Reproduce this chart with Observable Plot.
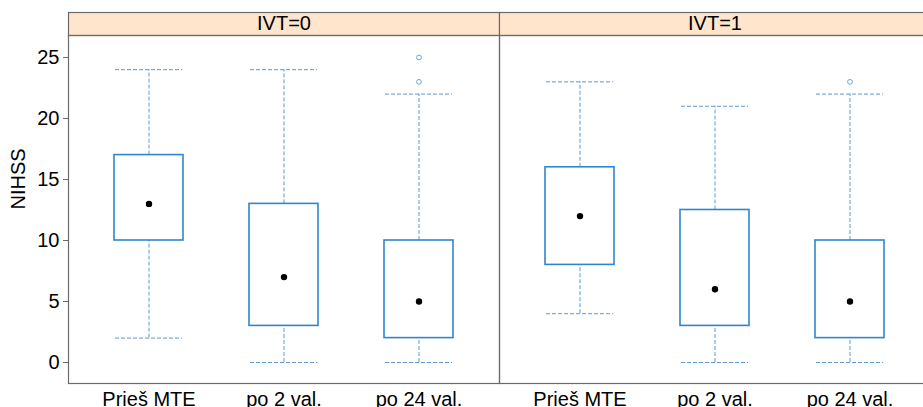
<!DOCTYPE html>
<html>
<head>
<meta charset="utf-8">
<script src="https://cdn.jsdelivr.net/npm/d3@7"></script>
<script src="https://cdn.jsdelivr.net/npm/@observablehq/plot@0.6"></script>
<style>
  html, body { margin: 0; padding: 0; background: #fff; overflow: hidden; }
  #chart svg { display: block; }
</style>
</head>
<body>
<div id="chart"></div>
<script>
// NIHSS by time point, split by IVT (0 / 1): five-number summaries per box
const ivtLevels = [0, 1];
const timePoints = ["Prieš MTE", "po 2 val.", "po 24 val."];

const boxIvt   = [0, 0, 0, 1, 1, 1];
const boxTime  = ["Prieš MTE", "po 2 val.", "po 24 val.", "Prieš MTE", "po 2 val.", "po 24 val."];
const whiskLo  = [2, 0, 0, 4, 0, 0];
const quart1   = [10, 3, 2, 8, 3, 2];
const medians  = [13, 7, 5, 12, 6, 5];
const quart3   = [17, 13, 10, 16, 12.5, 10];
const whiskHi  = [24, 24, 22, 23, 21, 22];

// points beyond the whiskers
const outIvt   = [0, 0, 1];
const outTime  = ["po 24 val.", "po 24 val.", "po 24 val."];
const outValue = [23, 25, 23];

const yTicks = [0, 5, 10, 15, 20, 25];

const boxes = boxIvt.map((ivt, i) => ({
  ivt, time: boxTime[i], lo: whiskLo[i], q1: quart1[i], med: medians[i], q3: quart3[i], hi: whiskHi[i]
}));
const outliers = outIvt.map((ivt, i) => ({ivt, time: outTime[i], value: outValue[i]}));

const boxBlue = "#2f86d0";
const whiskerBlue = "#5d9ad0";
const frameGrey = "#6b6b6b";
const dash = "4,2";

const chart = Plot.plot({
  width: 923,
  height: 407,
  marginTop: 35,
  marginBottom: 24,
  marginLeft: 68,
  marginRight: 0,
  style: {fontFamily: "'Liberation Sans', Arial, sans-serif", fontSize: "20px", color: "#000", background: "#fff"},
  fx: {domain: ivtLevels, range: [68, 930], padding: 0, axis: null},
  x: {domain: timePoints, paddingInner: 0.49, paddingOuter: 0.34, axis: null},
  y: {domain: [-1.72, 26.8], axis: null},
  marks: [
    // strip header above each panel
    Plot.frame({fill: "#ffe5cc", stroke: frameGrey, strokeWidth: 1.2, insetTop: -23, insetBottom: 348}),
    Plot.text(ivtLevels, {fx: d => d, text: d => `IVT=${d}`, frameAnchor: "top", lineAnchor: "middle", dy: -11.5, fill: "#000"}),
    // whiskers
    Plot.ruleX(boxes, {fx: "ivt", x: "time", y1: "q3", y2: "hi", stroke: whiskerBlue, strokeDasharray: dash}),
    Plot.ruleX(boxes, {fx: "ivt", x: "time", y1: "lo", y2: "q1", stroke: whiskerBlue, strokeDasharray: dash}),
    Plot.tickY(boxes, {fx: "ivt", x: "time", y: "hi", stroke: whiskerBlue, strokeDasharray: dash, inset: 1}),
    Plot.tickY(boxes, {fx: "ivt", x: "time", y: "lo", stroke: whiskerBlue, strokeDasharray: dash, inset: 1}),
    // boxes and medians
    Plot.barY(boxes, {fx: "ivt", x: "time", y1: "q1", y2: "q3", fill: "white", stroke: boxBlue, strokeWidth: 1.6}),
    Plot.dot(boxes, {fx: "ivt", x: "time", y: "med", r: 3.2, fill: "#000", stroke: "none"}),
    Plot.dot(outliers, {fx: "ivt", x: "time", y: "value", r: 2.4, fill: "none", stroke: "#6aaac8", strokeWidth: 1}),
    // panel borders
    Plot.frame({stroke: frameGrey, strokeWidth: 1.2}),
    // axes
    Plot.axisY({ticks: yTicks, tickSize: 5, tickPadding: 4, stroke: frameGrey, fill: "#000", label: null}),
    Plot.axisX({tickSize: 0, tickPadding: 8, fill: "#000", label: null}),
    Plot.text(["NIHSS"], {fx: () => 0, text: d => d, frameAnchor: "left", rotate: -90, dx: -50, fill: "#000"})
  ]
});

document.getElementById("chart").appendChild(chart);
</script>
</body>
</html>
